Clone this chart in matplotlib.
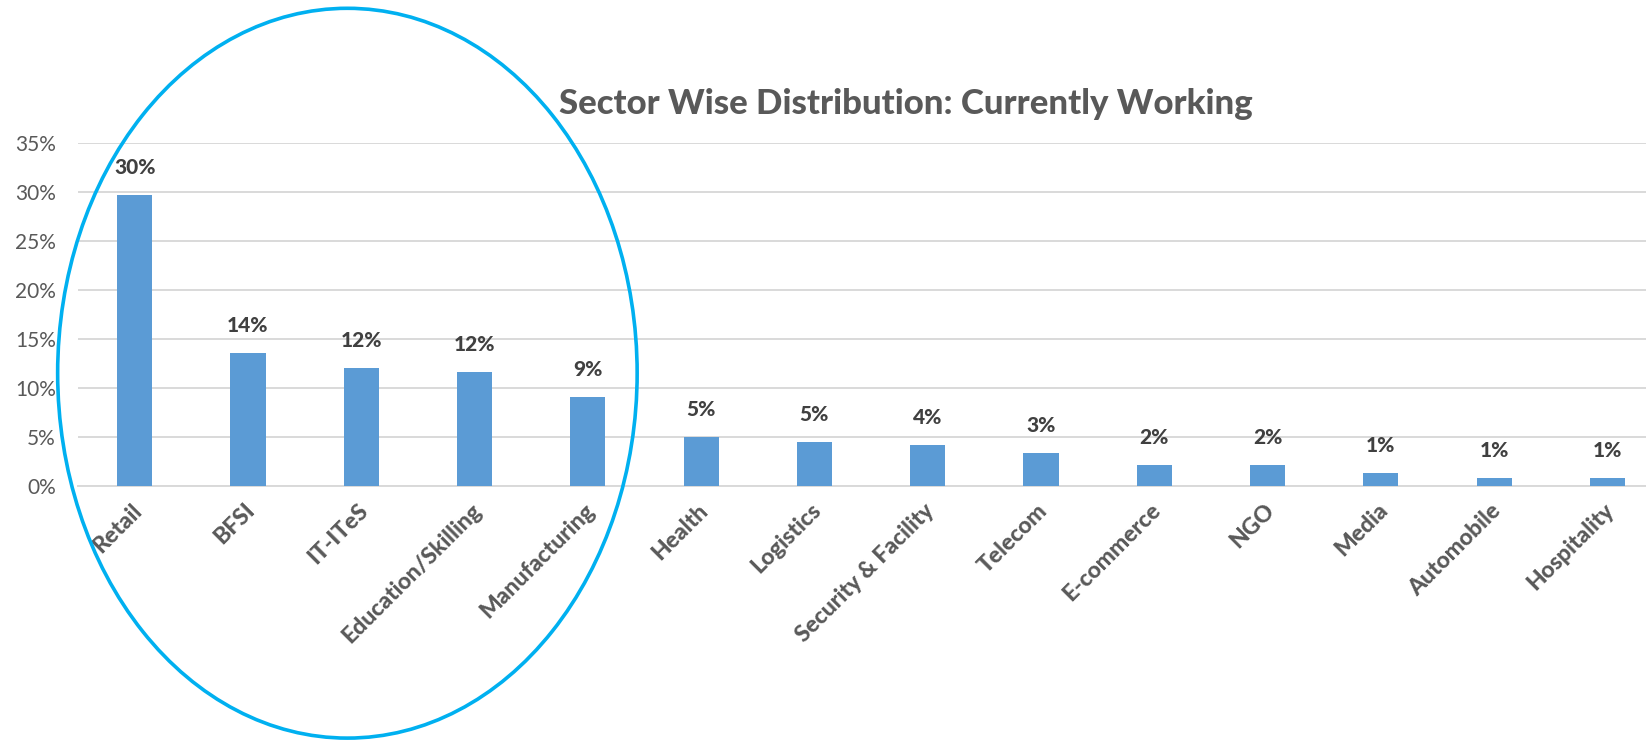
import matplotlib
matplotlib.use("Agg")
import matplotlib.pyplot as plt
from matplotlib.patches import Ellipse
from matplotlib.ticker import PercentFormatter
from matplotlib.transforms import ScaledTranslation

plt.rcParams['font.family'] = ['Lato', 'DejaVu Sans']

# sector shares of people currently working
sectors = ["Retail", "BFSI", "IT-ITeS", "Education/Skilling", "Manufacturing",
           "Health", "Logistics", "Security & Facility", "Telecom", "E-commerce",
           "NGO", "Media", "Automobile", "Hospitality"]
shares = [29.7, 13.6, 12.0, 11.6, 9.1, 5.0, 4.5, 4.2, 3.3, 2.1, 2.1, 1.25, 0.8, 0.8]
labels = ["30%", "14%", "12%", "12%", "9%", "5%", "5%", "4%", "3%", "2%",
          "2%", "1%", "1%", "1%"]
yticks = [0, 5, 10, 15, 20, 25, 30, 35]

fig = plt.figure(figsize=(16.46, 7.41), dpi=100)
ax = fig.add_axes([0.0474, 0.3445, 0.9526, 0.4621])

x = list(range(len(sectors)))
bars = ax.bar(x, shares, width=0.31, color="#5B9BD5", zorder=3)

for b, lab in zip(bars, labels):
    ax.annotate(lab, (b.get_x() + b.get_width() / 2, b.get_height()),
                xytext=(0, 13), textcoords="offset points", ha="center",
                va="bottom", fontsize=15, fontweight="black", color="#404040")

ax.set_xlim(-0.5, 13.34)
ax.set_ylim(0, 35)
ax.set_yticks(yticks)
ax.yaxis.set_major_formatter(PercentFormatter(decimals=0))
ax.grid(axis="y", color="#D9D9D9", linewidth=1.4, zorder=0)
for s in ["top", "right", "left"]:
    ax.spines[s].set_visible(False)
ax.spines["bottom"].set_color("#D9D9D9")
ax.spines["bottom"].set_linewidth(1.4)
ax.tick_params(axis="y", length=0, pad=16, labelsize=15, labelcolor="#595959")
ax.tick_params(axis="x", length=0, pad=10)
ax.set_xticks(x)
ax.set_xticklabels(sectors, rotation=45, ha="right", va="top",
                   rotation_mode="anchor", fontsize=16.5, fontweight="black",
                   color="#595959")
shift = ScaledTranslation(-4 / 100, 0, fig.dpi_scale_trans)
for t in ax.get_xticklabels():
    t.set_transform(t.get_transform() + shift)

fig.text(0.5505, 0.86, "Sector Wise Distribution: Currently Working",
         ha="center", va="center", fontsize=25, fontweight="black",
         color="#595959")

# highlight ring around the top five sectors
ring = Ellipse((347.4 / 1646, 1 - 373.2 / 741), 579.5 / 1646, 729.8 / 741,
               transform=fig.transFigure, fill=False, edgecolor="#00B0F0",
               linewidth=2.6, zorder=10)
fig.patches.append(ring)

fig.savefig("out.png", dpi=100)
